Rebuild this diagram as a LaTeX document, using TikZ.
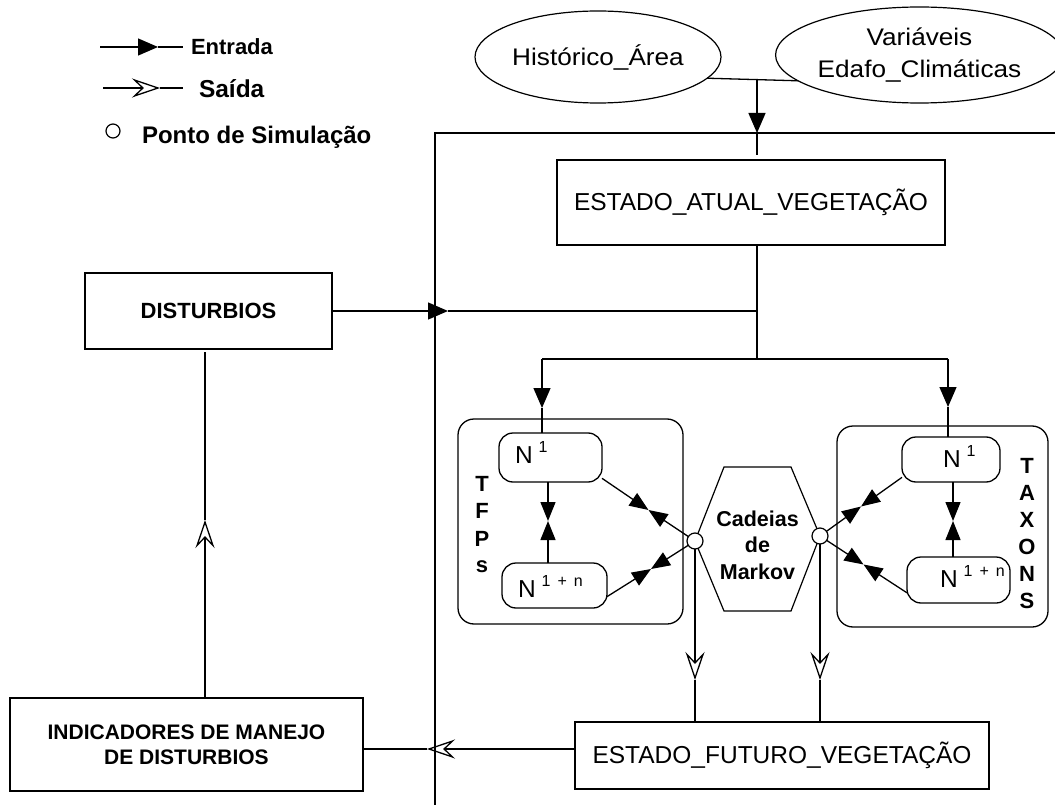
\documentclass[tikz,border=0pt]{standalone}
\usepackage{fontspec}
\setmainfont{Liberation Sans}
\newfontfamily\widefont[FakeStretch=1.09]{Liberation Sans}
\usetikzlibrary{arrows.meta,shapes.geometric}
\newcommand\Nlab[1]{N\hspace{6pt}\raisebox{11pt}{\fontsize{16}{16}\selectfont #1}}
\begin{document}
\begin{tikzpicture}[x=1pt,y=-1pt,
  line width=1.3pt,
  every node/.style={inner sep=0pt, outer sep=0pt},
  box/.style={draw, line width=1.5pt, rectangle},
  rbox/.style={draw, line width=1.3pt, rounded corners=14pt},
  ell/.style={draw, ellipse, line width=1.2pt},
  simpt/.style={draw, circle, fill=white, minimum size=16pt, line width=1.2pt},
  entr/.style={-{Triangle[length=20pt,width=17pt]}},
  bow/.style={-{Triangle[length=19pt,width=15pt]}},
  sai/.style={-{Stealth[open,length=28pt,width=19pt,inset=10pt]}},
  nfont/.style={font=\fontsize{24.5}{28}\selectfont},
  efont/.style={font=\widefont\fontsize{24}{32}\selectfont},
  bfont/.style={font=\bfseries\fontsize{22}{26}\selectfont},
]
\fill[white] (0,0) rectangle (1055,805);
\useasboundingbox (0,0) rectangle (1055,805);

% legend
\coordinate (la1) at (100,47); \coordinate (lt1) at (158,47); \coordinate (lb1) at (183,47);
\draw[entr] (la1) -- (lt1); \draw (lt1) -- (lb1);
\node[anchor=west, bfont] (lgE) at (191,47) {Entrada};
\coordinate (la2) at (103,88); \coordinate (lt2) at (160,88); \coordinate (lb2) at (183,88);
\draw[sai] (la2) -- (lt2); \draw (lt2) -- (lb2);
\node[anchor=west, font=\bfseries\fontsize{24.5}{28}\selectfont] (lgS) at (199,89) {Saída};
\node[simpt, minimum size=14pt] (lgC) at (113,131) {};
\node[anchor=west, font=\bfseries\fontsize{24}{28}\selectfont] (lgP) at (142,137) {Ponto de Simulação};

% frame
\coordinate (fB) at (435,805); \coordinate (fT) at (435,133); \coordinate (fR) at (1055,133);
\draw (fB) -- (fT) -- (fR);

% inputs
\node[ell, minimum width=246pt, minimum height=92pt, efont] (hist) at (598,57) {Histórico\_Área};
\node[ell, minimum width=265pt, minimum height=96pt, efont, align=center] (vars) at (919.5,55) {Variáveis\\Edafo\_Climáticas};
\draw (hist.-11.5) -- (vars.-168);

\node[box, minimum width=388pt, minimum height=85pt, nfont] (atual) at (751,202.5) {ESTADO\_ATUAL\_VEGETAÇÃO};
\coordinate (jn) at (757,79); \coordinate (tA) at (757,133);
\draw[entr] (jn) -- (tA);
\draw[shorten >=5pt] (tA) -- (tA |- atual.north);

\coordinate (hubD) at (757,311); \coordinate (br) at (757,359);
\draw[line width=2.5pt] (atual.south -| br) -- (br);

% disturbios
\node[box, minimum width=247pt, minimum height=76pt, bfont] (dist) at (208.5,311) {DISTURBIOS};
\coordinate (tD) at (448,311);
\draw[entr] (dist.east) -- (tD); \draw (tD) -- (hubD);

% containers
\node[rbox, minimum width=225pt, minimum height=205pt, rounded corners=16pt] (tfps) at (570.5,521.5) {};
\node[rbox, minimum width=211pt, minimum height=201pt, rounded corners=16pt] (taxons) at (942.5,526.5) {};

% N boxes
\node[rbox, minimum width=103pt, minimum height=49pt] (n1L) at (550.5,457.5) {};
\node[rbox, minimum width=105pt, minimum height=45pt] (nnL) at (554.5,585.5) {};
\node[rbox, minimum width=98pt, minimum height=45pt] (n1R) at (951,459.5) {};
\node[rbox, minimum width=103pt, minimum height=46pt] (nnR) at (958.5,580) {};
\node[anchor=base west, nfont] (n1Lt) at (515,463) {\Nlab{1}};
\node[anchor=base west, nfont] (nnLt) at (518,597) {\Nlab{1\hspace{7pt}+\hspace{7pt}n}};
\node[anchor=base west, nfont] (n1Rt) at (943,467) {\Nlab{1}};
\node[anchor=base west, nfont] (nnRt) at (940,587) {\Nlab{1\hspace{7pt}+\hspace{7pt}n}};

% branch
\coordinate (bL) at (542,359); \coordinate (bR) at (948,359);
\draw (bL) -- (bR);
\coordinate (tL) at (542,408); \coordinate (tR) at (948,407);
\draw[entr] (bL) -- (tL); \draw (tL) -- (tL |- n1L.north);
\draw[entr] (bR) -- (tR); \draw (tR) -- (tR |- n1R.north);

% vertical bowties
\coordinate (mL) at (548,521); \coordinate (mR) at (953,521);
\draw[bow] (n1L.south -| mL) -- (mL); \draw[bow] (nnL.north -| mL) -- (mL);
\draw[bow] (n1R.south -| mR) -- (mR); \draw[bow] (nnR.north -| mR) -- (mR);

% side labels
\foreach \letr/\yy [count=\i] in {T/491,F/518,P/546,s/572}
  \node[anchor=base, bfont] (tfl\i) at (482,\yy) {\letr};
\foreach \letr/\yy [count=\i] in {T/473,A/500,X/527,O/554,N/581,S/608}
  \node[anchor=base, bfont] (txl\i) at (1027,\yy) {\letr};

% hexagon
\coordinate (hx1) at (695,541); \coordinate (hx2) at (724,467); \coordinate (hx3) at (791,467);
\coordinate (hx4) at (820,536); \coordinate (hx5) at (791,611); \coordinate (hx6) at (724,611);
\draw[line width=1.2pt] (hx1) -- (hx2) -- (hx3) -- (hx4) -- (hx5) -- (hx6) -- cycle;
\node[align=center, font=\bfseries\fontsize{21.5}{26.5}\selectfont] (mk) at (757.5,545) {Cadeias\\de\\Markov};

\node[simpt] (cL) at (695,541) {};
\node[simpt] (cR) at (820,536) {};

% diagonals
\coordinate (d1) at (648.5,510); \coordinate (d2) at (651,569);
\coordinate (d3) at (861,506.5); \coordinate (d4) at (863.5,564.5);
\draw[bow] (n1L.-22) -- (d1); \draw[bow] (cL) -- (d1);
\draw[bow] (nnL.-12) -- (d2); \draw[bow] (cL) -- (d2);
\draw[bow] (n1R.200) -- (d3); \draw[bow] (cR) -- (d3);
\draw[bow] (nnR.194) -- (d4); \draw[bow] (cR) -- (d4);

% future state
\node[box, minimum width=414pt, minimum height=67pt, nfont] (fut) at (782,755.5) {ESTADO\_FUTURO\_VEGETAÇÃO};
\coordinate (tFL) at (695,680); \coordinate (tFR) at (820,680);
\draw[sai] (cL) -- (tFL); \draw (tFL) -- (tFL |- fut.north);
\draw[sai] (cR) -- (tFR); \draw (tFR) -- (tFR |- fut.north);

% indicators
\node[box, minimum width=353pt, minimum height=93pt, align=center, font=\bfseries\fontsize{21}{25}\selectfont] (ind) at (186.5,744.5) {INDICADORES DE MANEJO\\DE DISTURBIOS};
\coordinate (tI) at (427,749);
\draw[sai] (fut.west |- tI) -- (tI); \draw (tI) -- (ind.east |- tI);
\coordinate (tU) at (205,520);
\draw[sai] (ind.north -| tU) -- (tU); \draw[shorten >=3pt] (tU) -- (tU |- dist.south);
\end{tikzpicture}
\end{document}
